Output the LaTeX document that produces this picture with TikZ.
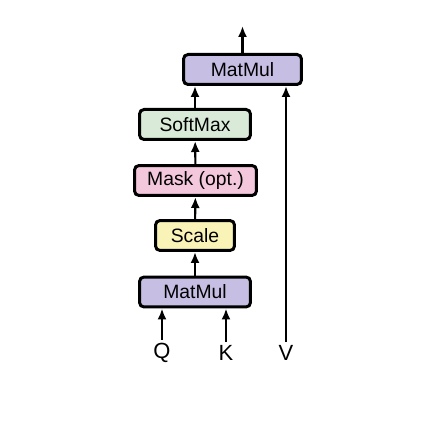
\documentclass[tikz,border=0pt]{standalone}
\usepackage{fontspec}
\setmainfont{Liberation Sans}
\usetikzlibrary{arrows.meta}
\definecolor{matmulc}{HTML}{C7BEE3}
\definecolor{softmaxc}{HTML}{D9EBD8}
\definecolor{maskc}{HTML}{F3C8DC}
\definecolor{scalec}{HTML}{F9F3B8}

\tikzset{
  opbox/.style={draw, line width=0.6mm, rounded corners=0.9mm, minimum height=6mm,
    inner sep=0pt, font=\fontsize{11}{13}\selectfont},
  flow/.style={line width=0.42mm, -{Latex[length=2.2mm,width=1.8mm]}},
  inlabel/.style={font=\fontsize{12.5}{15}\selectfont, inner sep=0.6mm}
}

\begin{document}
\begin{tikzpicture}[x=0.02cm, y=-0.02cm]
\useasboundingbox (0, 0) rectangle (426, 428);
% blocks, bottom to top
\node[opbox, fill=matmulc, minimum width=22.2mm] (mm1) at (195, 292) {MatMul};
\node[opbox, fill=scalec, minimum width=15.8mm] (scale) at (195, 235.5) {Scale};
\node[opbox, fill=maskc, minimum width=24.4mm] (mask) at (195.5, 180.5) {Mask (opt.)};
\node[opbox, fill=softmaxc, minimum width=22.2mm] (soft) at (195, 124.5) {SoftMax};
\node[opbox, fill=matmulc, minimum width=23.6mm] (mm2) at (242.5, 69.5) {MatMul};
% inputs
\node[inlabel] (q) at (162, 353) {Q};
\node[inlabel] (k) at (226, 353) {K};
\node[inlabel] (v) at (286, 353) {V};
\coordinate (out) at (242.5, 26);
% connections
\draw[flow] (q.north) -- (q.north |- mm1.south);
\draw[flow] (k.north) -- (k.north |- mm1.south);
\draw[flow] (mm1) -- (scale);
\draw[flow] (scale) -- (mask);
\draw[flow] (mask) -- (soft);
\draw[flow] (soft.north) -- (soft.north |- mm2.south);
\draw[flow] (v.north) -- (v.north |- mm2.south);
\draw[flow] (mm2) -- (out);
\end{tikzpicture}
\end{document}
